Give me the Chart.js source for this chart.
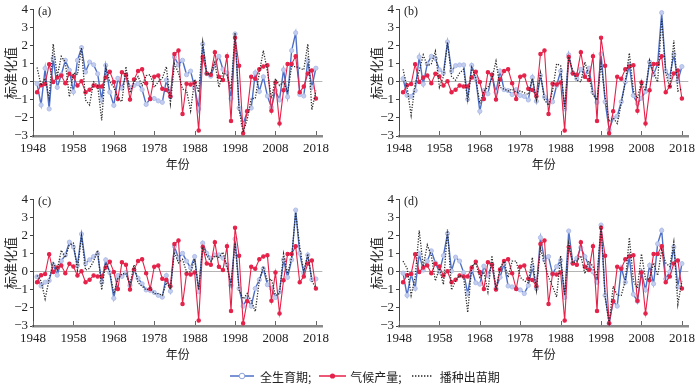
<!DOCTYPE html>
<html>
<head>
<meta charset="utf-8">
<script src="https://cdn.jsdelivr.net/npm/chart.js@4"></script>
<style>
  body { margin: 0; background: #fff; }
  #wrap { position: relative; width: 700px; height: 386px; overflow: hidden; }
  canvas { position: absolute; }
  .legend { position: absolute; left: 230px; top: 368px; height: 16px; display: flex; align-items: center;
    font-family: "Noto Sans CJK SC", sans-serif; font-size: 12px; color: #222; white-space: nowrap; }
  .legend svg { display: block; }
</style>
</head>
<body>
<div id="wrap">
  <canvas id="chartA" width="334" height="180" style="left:0;top:0"></canvas>
  <canvas id="chartB" width="334" height="180" style="left:366px;top:0"></canvas>
  <canvas id="chartC" width="334" height="180" style="left:0;top:190px"></canvas>
  <canvas id="chartD" width="334" height="180" style="left:366px;top:190px"></canvas>
  <div class="legend">
    <svg width="24" height="10"><line x1="0" y1="5" x2="24" y2="5" stroke="#4d6fc6" stroke-width="1.5"/><circle cx="12" cy="5" r="2.8" fill="#fff" stroke="#8ea3dc" stroke-width="1"/></svg>
    <span style="margin-left:6px">全生育期;</span>
    <svg width="27" height="10" style="margin-left:8px"><line x1="0" y1="5" x2="27" y2="5" stroke="#e5224a" stroke-width="1.5"/><circle cx="13.5" cy="5" r="2.6" fill="#e5224a"/></svg>
    <span style="margin-left:4px">气候产量;</span>
    <svg width="21" height="10" style="margin-left:10px"><line x1="0" y1="5" x2="21" y2="5" stroke="#222" stroke-width="1.6" stroke-dasharray="1.4 1.6"/></svg>
    <span style="margin-left:7px">播种出苗期</span>
  </div>
</div>
<script>
const years = [1949, 1950, 1951, 1952, 1953, 1954, 1955, 1956, 1957, 1958,
  1959, 1960, 1961, 1962, 1963, 1964, 1965, 1966, 1967, 1968,
  1969, 1970, 1971, 1972, 1973, 1974, 1975, 1976, 1977, 1978,
  1979, 1980, 1981, 1982, 1983, 1984, 1985, 1986, 1987, 1988,
  1989, 1990, 1991, 1992, 1993, 1994, 1995, 1996, 1997, 1998,
  1999, 2000, 2001, 2002, 2003, 2004, 2005, 2006, 2007, 2008,
  2009, 2010, 2011, 2012, 2013, 2014, 2015, 2016, 2017, 2018];
const xTicks = [1948, 1958, 1968, 1978, 1988, 1998, 2008, 2018];
const yTicks = [-3, -2, -1, 0, 1, 2, 3, 4];

// 气候产量 (same in every panel)
const climateYield = [-0.57, -0.18, -0.12, 0.98, 0.0, 0.25, 0.35, -0.07, 0.45, 0.3,
  -0.2, 0.03, -0.57, -0.43, -0.2, -0.25, -0.25, 0.25, 0.57, 0.0,
  -0.95, 0.53, 0.4, -0.97, 0.13, 0.6, 0.7, -0.07, -0.95, 0.28,
  0.35, -0.38, -0.45, -0.8, 1.55, 1.74, -1.78, -0.1, -0.14, -0.03,
  -2.7, 1.38, 0.46, 0.4, 1.65, 0.28, 0.1, 1.42, -2.17, 2.45,
  0.9, -2.85, -1.63, 0.28, 0.18, 0.7, 0.85, 0.92, -1.6, -0.03,
  -2.3, -0.46, 1.0, 1.0, 1.42, -0.57, -0.25, 0.46, 0.64, -0.92];

// 全生育期, panels a-d
const wholeA = [-0.1, -1.28, 0.75, -1.5, 1.3, -0.3, 0.4, 1.2, 0.65, -0.55,
  1.2, 1.9, 0.55, 1.1, 0.95, 0.45, -1.0, 0.92, -0.57, -1.3,
  0.2, -0.35, 0.35, -0.3, -0.2, -0.1, -0.43, -1.25, -0.92, -0.92,
  -1.05, -1.13, 0.1, -0.83, 1.38, 0.94, 1.2, 0.4, 0.6, -0.3,
  -1.5, 2.1, 0.46, 0.32, 0.95, 1.42, 0.7, 0.5, -0.92, 2.66,
  -1.45, -2.35, -1.63, -1.45, 0.5, -0.53, 0.28, -0.78, -1.42, -0.48,
  -1.0, 0.67, -0.83, 1.74, 2.72, -0.7, -0.78, 1.17, -0.3, 0.76];
const wholeB = [0.18, -0.75, -0.8, -0.48, 1.38, -0.12, 1.0, 1.42, 1.3, 0.67,
  0.5, 2.22, 0.6, 0.9, 0.94, 0.94, -0.96, 0.92, 0.18, -1.63,
  -0.48, -0.66, 0.4, -0.57, 0.6, -0.43, -0.48, -0.7, -0.43, -0.75,
  -0.8, -1.0, 0.25, -1.07, 0.36, -0.83, -1.1, -1.1, -0.2, 0.6,
  -1.5, 1.5, 0.5, 0.18, 0.7, 0.36, 0.76, -0.57, -1.14, 1.56,
  -1.1, -2.66, -2.0, -1.9, -1.1, 0.0, 0.94, -0.75, -1.2, -0.9,
  -0.53, 1.1, 0.4, 1.0, 3.84, 0.6, 0.28, 1.53, 0.05, 0.85];
const wholeC = [-0.27, -0.78, -0.57, -0.48, 0.4, -0.18, 0.6, 0.94, 1.65, 1.38,
  0.36, 2.1, 0.46, 0.67, 0.85, 1.0, -0.57, 0.67, -0.04, -1.46,
  -0.2, -0.25, -0.04, -0.75, 0.1, -0.35, -0.66, -1.0, -1.03, -1.14,
  -1.3, -1.4, -0.2, -1.07, 1.42, 0.76, 1.03, 0.6, 0.23, 0.85,
  -1.1, 1.6, 1.03, 0.76, 0.94, 0.94, 0.76, 0.4, -0.75, 1.83,
  -0.92, -1.9, -1.46, -1.9, -0.92, -0.43, 0.18, -0.71, -0.92, -1.42,
  -1.1, 0.67, -0.3, 0.67, 3.43, 1.03, -0.07, 0.94, -0.43, -0.39];
const wholeD = [-0.07, -1.3, -0.12, -0.92, 1.0, 0.1, 0.6, 1.17, 0.5, 0.0,
  0.9, 2.13, 0.05, 0.82, 0.6, -0.04, -1.2, 0.14, -0.6, -0.68,
  0.32, -0.2, 0.4, -0.92, -0.3, 0.46, -0.78, -0.83, -0.92, -1.0,
  -1.2, -0.75, 0.28, -0.92, 1.9, 0.67, 0.85, -0.12, 0.3, 0.64,
  -1.42, 2.27, 0.5, 0.76, 1.35, 0.85, 0.36, 0.0, -0.57, 2.6,
  -1.3, -2.85, -1.63, -1.9, 0.23, -0.57, 0.85, -1.24, -1.63, 0.0,
  -1.0, 0.36, -0.66, 1.56, 2.3, -0.39, 0.0, 1.38, -0.83, 0.46];

// 播种出苗期, panels a-d
const sowingA = [0.8, -0.2, 0.2, -0.9, 2.1, 0.3, 1.42, 1.1, -0.83, 0.5,
  0.4, 1.9, -1.0, -1.28, 0.0, -0.2, -2.13, 0.85, 0.0, -0.3,
  -0.92, -1.1, 0.85, -0.6, 0.0, 0.3, -0.2, 0.35, 0.4, -0.3,
  0.0, 0.2, 0.85, -1.2, 1.0, 0.5, -0.4, -0.48, -1.6, 0.14,
  -0.57, 2.2, 0.4, 0.5, 1.1, -0.3, 0.5, 0.4, -0.4, 2.72,
  -1.55, -2.8, -2.08, -0.92, -0.92, 0.5, 1.74, 0.6, -0.92, 0.18,
  -0.2, 0.0, -0.57, 0.85, 0.85, 0.76, 0.67, 2.1, -1.55, -0.48];
const sowingB = [0.7, -0.3, -1.85, -0.1, 0.6, 1.5, 0.9, 1.0, 1.7, -0.3,
  0.3, 2.2, 0.3, 0.1, 0.5, 0.7, -1.1, 0.8, 0.2, -1.2,
  -0.5, -0.3, 0.2, 1.15, -0.3, -0.4, -0.5, -0.4, -0.6, -0.5,
  -0.6, -0.7, 0.2, -1.0, 0.5, -1.0, -1.3, -0.5, 1.0, 0.9,
  -1.5, 1.4, 0.6, 0.1, 0.0, 1.1, 0.3, -0.7, -1.0, 1.0,
  -0.8, -2.2, -2.0, -2.3, -1.2, 0.0, 1.6, -0.5, -0.9, 0.0,
  -0.5, 1.2, 0.5, 0.0, 3.5, 0.5, -0.3, 2.3, -0.5, -0.4];
const sowingC = [-0.2, -0.5, -1.5, -0.4, 0.5, 0.1, 1.2, 0.8, 1.5, 1.6,
  0.1, 2.0, 0.1, 0.2, 0.6, 1.2, -1.0, 0.5, 0.0, -1.2,
  -0.4, -0.1, -0.1, -0.7, 0.4, -0.6, -0.8, -1.0, -0.9, -1.2,
  -1.2, -1.3, -0.6, -0.9, 1.1, 0.5, 0.7, 0.0, 0.0, 0.7,
  -1.0, 1.4, 0.9, 0.6, 0.9, 0.8, 1.1, 0.3, -0.7, 1.6,
  -1.0, -1.5, -1.2, -1.6, -2.2, -0.5, 0.3, -0.5, -0.4, -1.3,
  -1.2, 1.0, -0.1, 0.8, 3.3, 1.4, 0.0, 1.0, -0.5, -0.9];
const sowingD = [0.6, 0.2, -1.3, -0.3, 2.3, 0.3, 1.5, 0.9, -0.5, 0.2,
  -0.7, 2.35, -1.0, -0.5, -0.2, -0.3, -2.25, 0.3, 0.5, -0.3,
  0.0, -1.1, 0.9, -1.0, 0.2, 0.6, -0.3, 0.6, 0.6, -0.3,
  -0.5, -0.6, 0.8, -1.0, 1.3, 0.5, -0.3, -0.8, -1.4, 0.9,
  -1.3, 1.6, 0.5, 0.6, 0.9, -0.1, 0.6, 0.3, -0.3, 2.6,
  -1.4, -2.85, -0.8, -1.3, -1.3, -0.5, 1.9, -0.5, -0.9, 1.0,
  -0.4, -0.4, 0.5, -0.2, 1.2, 0.5, 0.3, 1.65, -1.8, -0.5];

const serif = "'Liberation Serif', 'Noto Sans CJK SC', serif";
const cjk = "'Noto Sans CJK SC', sans-serif";
Chart.defaults.font.family = serif;
Chart.defaults.color = "#222";

function pairs(values) {
  return years.map((yr, i) => ({ x: yr, y: values[i] }));
}

// panel tag and the short inward ticks on the year axis
const panelExtras = {
  id: "panelExtras",
  afterDraw(chart, args, opts) {
    const { ctx, chartArea, scales } = chart;
    ctx.save();
    ctx.strokeStyle = "#666";
    ctx.lineWidth = 1;
    xTicks.forEach(t => {
      const x = Math.round(scales.x.getPixelForValue(t)) + 0.5;
      ctx.beginPath();
      ctx.moveTo(x, chartArea.bottom - 1);
      ctx.lineTo(x, chartArea.bottom - 5);
      ctx.stroke();
    });
    ctx.fillStyle = "#222";
    ctx.font = "12px " + serif;
    ctx.textBaseline = "top";
    ctx.fillText(opts.label, chartArea.left + 5, chartArea.top - 4);
    ctx.restore();
  }
};

function makeChart(id, tag, whole, sowing) {
  new Chart(document.getElementById(id), {
    type: "line",
    plugins: [panelExtras],
    data: {
      datasets: [
        {
          label: "播种出苗期",
          data: pairs(sowing),
          borderColor: "#2a2a2a",
          borderWidth: 1.3,
          borderDash: [1.2, 1.5],
          pointRadius: 0,
          tension: 0
        },
        {
          label: "气候产量",
          data: pairs(climateYield),
          borderColor: "#e5224a",
          borderWidth: 1.1,
          pointRadius: 1.7,
          pointBackgroundColor: "#e5224a",
          pointBorderColor: "#e5224a",
          tension: 0
        },
        {
          label: "全生育期",
          data: pairs(whole),
          borderColor: "#4d6fc6",
          borderWidth: 1.4,
          pointRadius: 2.1,
          pointBackgroundColor: "#c3cdf0",
          pointBorderColor: "#b0bee8",
          pointBorderWidth: 1,
          tension: 0
        }
      ]
    },
    options: {
      responsive: false,
      animation: false,
      layout: { padding: { top: 5, right: 5, left: 0, bottom: 0 } },
      plugins: {
        legend: { display: false },
        tooltip: { enabled: false },
        panelExtras: { label: tag }
      },
      scales: {
        x: {
          type: "linear",
          min: 1948,
          max: 2019.6,
          afterBuildTicks: s => { s.ticks = xTicks.map(v => ({ value: v })); },
          afterFit: s => { s.height = 44; },
          grid: { display: true, drawOnChartArea: false, drawTicks: false },
          border: { color: "#8a8a8a", width: 2.5 },
          ticks: { autoSkip: false, padding: 5, maxRotation: 0, font: { size: 13 }, callback: v => String(v) },
          title: { display: true, text: "年份", font: { size: 12, family: cjk }, padding: { top: 0, bottom: 8 } }
        },
        y: {
          min: -3,
          max: 4,
          afterBuildTicks: s => { s.ticks = yTicks.map(v => ({ value: v })); },
          afterFit: s => { s.width = 33; },
          grid: {
            color: c => (c.tick && c.tick.value === 0 ? "#b4b4b4" : "rgba(0,0,0,0)"),
            tickColor: "#444",
            tickLength: 3
          },
          border: { color: "#444", width: 1 },
          ticks: { autoSkip: false, padding: 2, font: { size: 13 }, callback: v => String(v).replace("-", "−") },
          title: { display: true, text: "标准化值", font: { size: 13, family: cjk }, padding: { top: 2, bottom: 0 } }
        }
      }
    }
  });
}

makeChart("chartA", "(a)", wholeA, sowingA);
makeChart("chartB", "(b)", wholeB, sowingB);
makeChart("chartC", "(c)", wholeC, sowingC);
makeChart("chartD", "(d)", wholeD, sowingD);
</script>
</body>
</html>
